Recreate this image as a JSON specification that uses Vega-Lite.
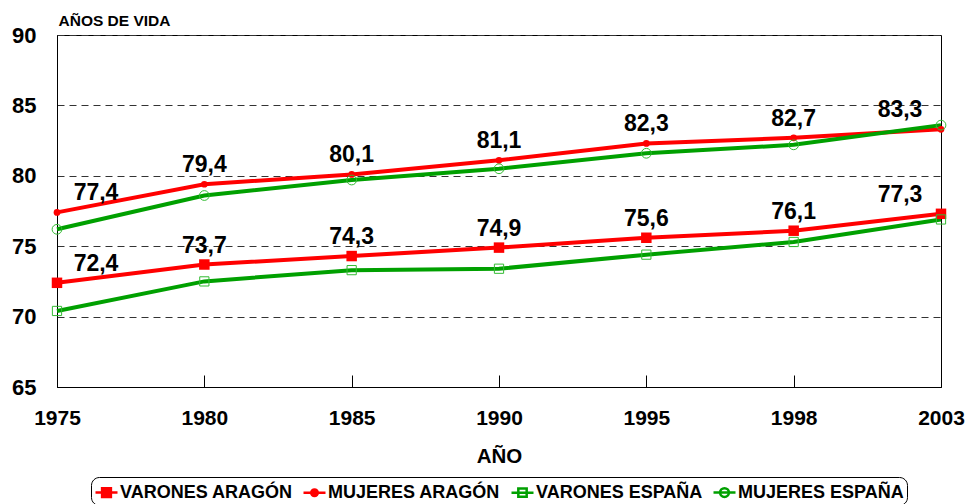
{
  "$schema": "https://vega.github.io/schema/vega-lite/v6.json",
  "autosize": {"type": "none"},
  "width": 884,
  "height": 352,
  "padding": {"left": 57, "top": 35, "right": 28, "bottom": 117},
  "background": "white",
  "config": {
    "locale": {"number": {"decimal": ",", "thousands": ".", "grouping": [3], "currency": ["", " €"]}},
    "view": {"stroke": "black", "strokeWidth": 1},
    "font": "Liberation Sans"
  },
  "data": {
    "values": [
      {"year": "1975", "serie": "VARONES ARAGÓN", "value": 72.4},
      {"year": "1980", "serie": "VARONES ARAGÓN", "value": 73.7},
      {"year": "1985", "serie": "VARONES ARAGÓN", "value": 74.3},
      {"year": "1990", "serie": "VARONES ARAGÓN", "value": 74.9},
      {"year": "1995", "serie": "VARONES ARAGÓN", "value": 75.6},
      {"year": "1998", "serie": "VARONES ARAGÓN", "value": 76.1},
      {"year": "2003", "serie": "VARONES ARAGÓN", "value": 77.3},
      {"year": "1975", "serie": "MUJERES ARAGÓN", "value": 77.4},
      {"year": "1980", "serie": "MUJERES ARAGÓN", "value": 79.4},
      {"year": "1985", "serie": "MUJERES ARAGÓN", "value": 80.1},
      {"year": "1990", "serie": "MUJERES ARAGÓN", "value": 81.1},
      {"year": "1995", "serie": "MUJERES ARAGÓN", "value": 82.3},
      {"year": "1998", "serie": "MUJERES ARAGÓN", "value": 82.7},
      {"year": "2003", "serie": "MUJERES ARAGÓN", "value": 83.3},
      {"year": "1975", "serie": "VARONES ESPAÑA", "value": 70.4},
      {"year": "1980", "serie": "VARONES ESPAÑA", "value": 72.5},
      {"year": "1985", "serie": "VARONES ESPAÑA", "value": 73.3},
      {"year": "1990", "serie": "VARONES ESPAÑA", "value": 73.4},
      {"year": "1995", "serie": "VARONES ESPAÑA", "value": 74.4},
      {"year": "1998", "serie": "VARONES ESPAÑA", "value": 75.3},
      {"year": "2003", "serie": "VARONES ESPAÑA", "value": 76.9},
      {"year": "1975", "serie": "MUJERES ESPAÑA", "value": 76.2},
      {"year": "1980", "serie": "MUJERES ESPAÑA", "value": 78.6},
      {"year": "1985", "serie": "MUJERES ESPAÑA", "value": 79.7},
      {"year": "1990", "serie": "MUJERES ESPAÑA", "value": 80.5},
      {"year": "1995", "serie": "MUJERES ESPAÑA", "value": 81.6},
      {"year": "1998", "serie": "MUJERES ESPAÑA", "value": 82.2},
      {"year": "2003", "serie": "MUJERES ESPAÑA", "value": 83.6}
    ]
  },
  "encoding": {
    "x": {
      "field": "year", "type": "ordinal",
      "scale": {"type": "point", "padding": 0},
      "axis": {
        "title": "AÑO", "labelAngle": 0, "labelFontSize": 21, "labelFontWeight": "bold", "labelColor": "black",
        "labelFont": "Liberation Sans", "labelBaseline": "top",
        "tickSize": -12, "tickColor": "black", "labelPadding": 32,
        "domainColor": "black", "grid": false,
        "titleFontSize": 20.5, "titleFontWeight": "bold", "titleColor": "black", "titleFont": "Liberation Sans",
        "titleY": 75, "titleBaseline": "alphabetic"
      }
    },
    "y": {
      "field": "value", "type": "quantitative",
      "scale": {"domain": [65, 90], "nice": false, "zero": false},
      "axis": {
        "title": "AÑOS DE VIDA", "values": [65, 70, 75, 80, 85, 90],
        "labelFontSize": 22, "labelFontWeight": "bold", "labelColor": "black", "labelFont": "Liberation Sans",
        "labelPadding": 21, "ticks": false, "domainColor": "black",
        "grid": true, "gridColor": "#333333", "gridDash": [7, 5], "gridWidth": 1,
        "titleAngle": 0, "titleAlign": "left", "titleX": 1, "titleY": -10, "titleBaseline": "alphabetic",
        "titleFontSize": 15.5, "titleFontWeight": "bold", "titleColor": "black", "titleFont": "Liberation Sans"
      }
    }
  },
  "layer": [
    {
      "mark": {"type": "line", "strokeWidth": 4},
      "encoding": {
        "detail": {"field": "serie", "type": "nominal"},
        "stroke": {"condition": {"test": "indexof(datum.serie, 'ARAGÓN') >= 0", "value": "#FF0000"}, "value": "#00A000"}
      }
    },
    {
      "transform": [{"filter": "datum.serie == 'VARONES ARAGÓN'"}],
      "mark": {"type": "point", "shape": "square", "filled": true, "color": "#FF0000", "size": 110, "opacity": 1}
    },
    {
      "transform": [{"filter": "datum.serie == 'MUJERES ARAGÓN'"}],
      "mark": {"type": "point", "shape": "circle", "filled": true, "color": "#FF0000", "size": 45, "opacity": 1}
    },
    {
      "transform": [{"filter": "datum.serie == 'VARONES ESPAÑA'"}],
      "mark": {"type": "point", "shape": "square", "filled": false, "stroke": "#33BB33", "strokeWidth": 1, "size": 85, "opacity": 1}
    },
    {
      "transform": [{"filter": "datum.serie == 'MUJERES ESPAÑA'"}],
      "mark": {"type": "point", "shape": "circle", "filled": false, "stroke": "#33BB33", "strokeWidth": 1, "size": 95, "opacity": 1}
    },
    {
      "mark": {"type": "point", "opacity": 0, "filled": true},
      "encoding": {
        "shape": {
          "field": "serie", "type": "nominal",
          "scale": {"domain": ["VARONES ARAGÓN", "MUJERES ARAGÓN", "VARONES ESPAÑA", "MUJERES ESPAÑA"],
                    "range": [
                      "M-1,0H1M-0.4,-0.4H0.4V0.4H-0.4Z",
                      "M-1,0H1M0.3,0A0.3,0.3,0,1,1,-0.3,0A0.3,0.3,0,1,1,0.3,0Z",
                      "M-1,0H1M-0.38,-0.38H0.38V0.38H-0.38Z",
                      "M-1,0H1M0.4,0A0.4,0.4,0,1,1,-0.4,0A0.4,0.4,0,1,1,0.4,0Z"
                    ]},
          "legend": {
            "title": null,
            "orient": "none", "legendX": 34, "legendY": 442, "direction": "horizontal", "columns": 4,
            "symbolSize": 484, "symbolStrokeWidth": 2.5, "symbolOpacity": 1,
            "labelFontSize": 18, "labelFontWeight": "bold", "labelColor": "black", "labelFont": "Liberation Sans",
            "labelLimit": 400, "labelOffset": 1, "columnPadding": 5, "padding": 3,
            "strokeColor": "black", "cornerRadius": 8, "fillColor": "white"
          }
        },
        "fill": {
          "field": "serie", "type": "nominal",
          "scale": {"domain": ["VARONES ARAGÓN", "MUJERES ARAGÓN", "VARONES ESPAÑA", "MUJERES ESPAÑA"],
                    "range": ["#FF0000", "#FF0000", "transparent", "transparent"]},
          "legend": {"title": null, "orient": "none", "legendX": 34, "legendY": 442, "direction": "horizontal", "columns": 4}
        },
        "stroke": {
          "field": "serie", "type": "nominal",
          "scale": {"domain": ["VARONES ARAGÓN", "MUJERES ARAGÓN", "VARONES ESPAÑA", "MUJERES ESPAÑA"],
                    "range": ["#FF0000", "#FF0000", "#00A000", "#00A000"]},
          "legend": {"title": null, "orient": "none", "legendX": 34, "legendY": 442, "direction": "horizontal", "columns": 4}
        }
      }
    },
    {
      "transform": [{"filter": "(datum.serie == 'VARONES ARAGÓN' || datum.serie == 'MUJERES ARAGÓN') && datum.year == '1975'"}],
      "mark": {"type": "text", "fontSize": 23, "fontWeight": "bold", "font": "Liberation Sans", "color": "black", "baseline": "middle", "dy": -19, "dx": 39},
      "encoding": {"text": {"field": "value", "type": "quantitative", "format": ".1f"}}
    },
    {
      "transform": [{"filter": "(datum.serie == 'VARONES ARAGÓN' || datum.serie == 'MUJERES ARAGÓN') && datum.year == '2003'"}],
      "mark": {"type": "text", "fontSize": 23, "fontWeight": "bold", "font": "Liberation Sans", "color": "black", "baseline": "middle", "dy": -19, "dx": -41},
      "encoding": {"text": {"field": "value", "type": "quantitative", "format": ".1f"}}
    },
    {
      "transform": [{"filter": "(datum.serie == 'VARONES ARAGÓN' || datum.serie == 'MUJERES ARAGÓN') && datum.year != '1975' && datum.year != '2003'"}],
      "mark": {"type": "text", "fontSize": 23, "fontWeight": "bold", "font": "Liberation Sans", "color": "black", "baseline": "middle", "dy": -19},
      "encoding": {"text": {"field": "value", "type": "quantitative", "format": ".1f"}}
    }
  ]
}
